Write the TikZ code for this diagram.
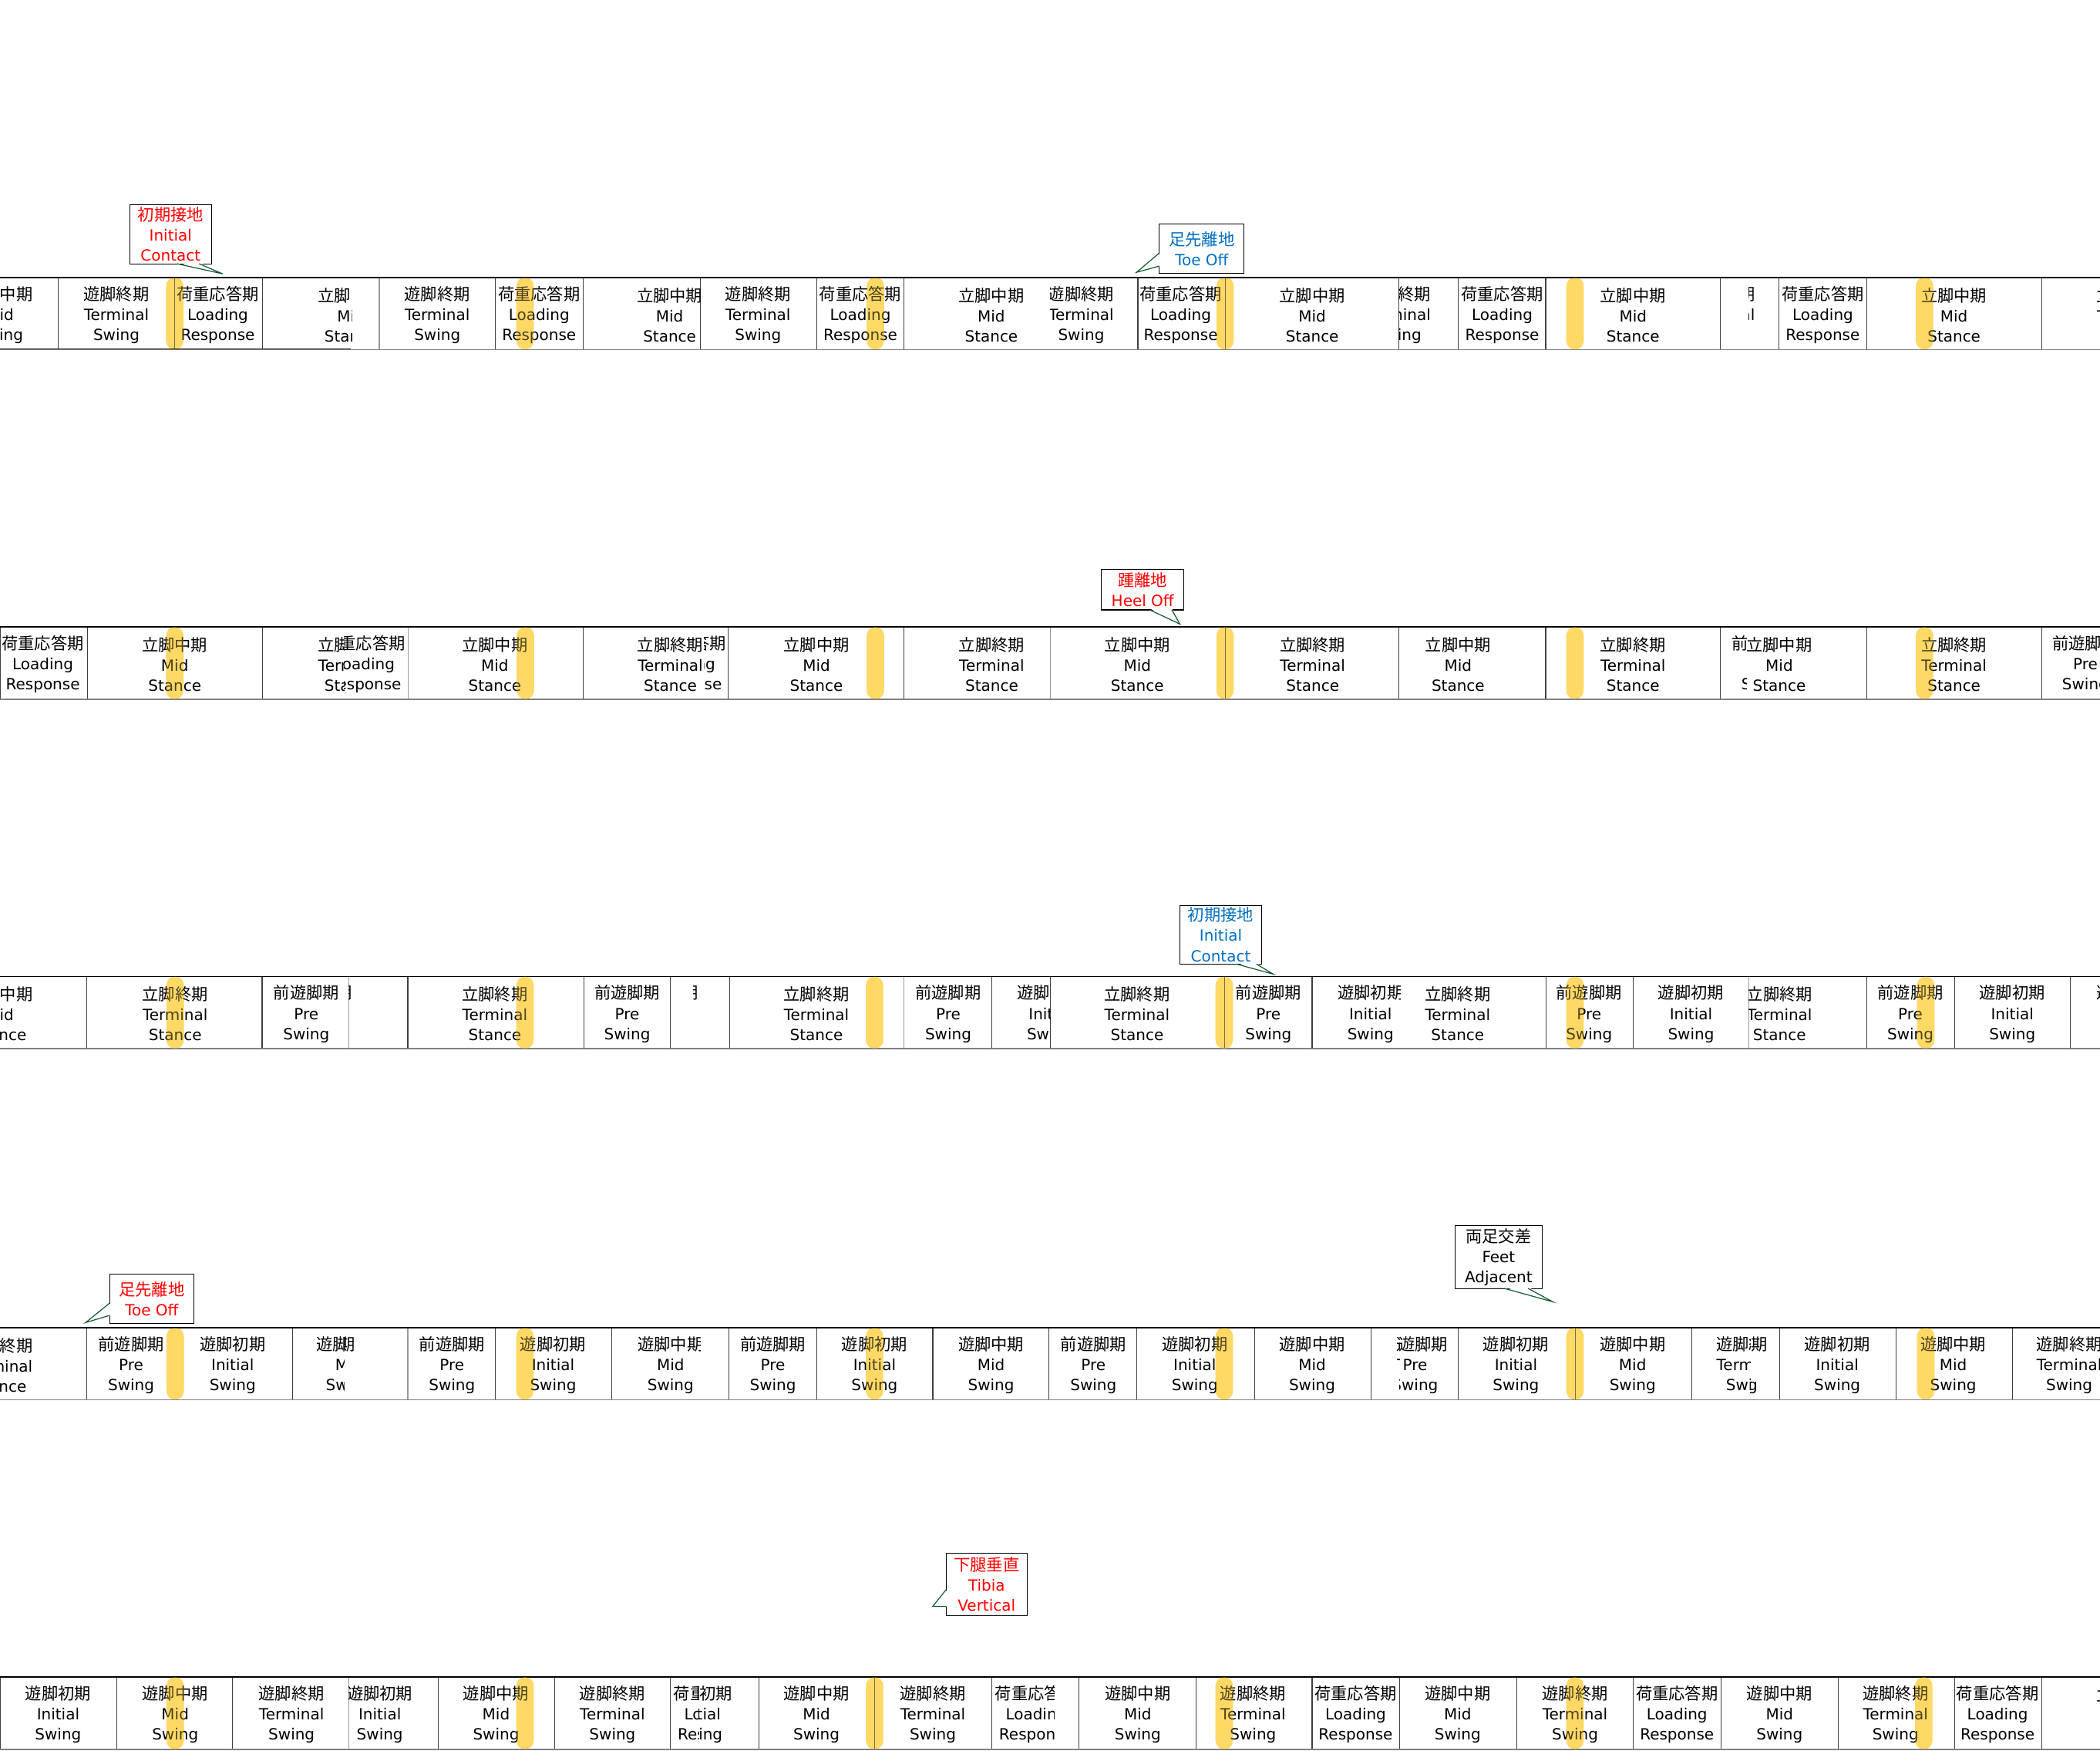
\documentclass[tikz,border=0pt]{standalone}
\usepackage{fontspec}
\setmainfont{DejaVu Sans}
\newfontfamily\cjk{Noto Sans CJK JP}[Scale=1.065]
\usepackage{tikz}
\usetikzlibrary{calc}

\definecolor{barYellow}{RGB}{255,217,102}
\definecolor{markRed}{RGB}{255,0,0}
\definecolor{markBlue}{RGB}{0,112,192}
\definecolor{wedgeGreen}{RGB}{20,90,50}

\newcommand{\phLR}{{\cjk 荷重応答期}\\Loading\\Response}
\newcommand{\phMSt}{{\cjk 立脚中期}\\Mid\\Stance}
\newcommand{\phTSt}{{\cjk 立脚終期}\\Terminal\\Stance}
\newcommand{\phPSw}{{\cjk 前遊脚期}\\Pre\\Swing}
\newcommand{\phISw}{{\cjk 遊脚初期}\\Initial\\Swing}
\newcommand{\phMSw}{{\cjk 遊脚中期}\\Mid\\Swing}
\newcommand{\phTSw}{{\cjk 遊脚終期}\\Terminal\\Swing}
\newcommand{\phSliver}{{\cjk 期}\\\phantom{M}\\\phantom{g}}

% one strip: id, top, dark separators, light separators, cells, clipped cells, heel bars
\newcommand{\gaitrow}[7]{%
  \pgfmathsetmacro\rowtop{#2}%
  \pgfmathsetmacro\rowbot{#2+54}%
  \pgfmathsetmacro\rowmid{#2+28}%
  \foreach \x in {#7} \fill[heelbar] ({\x-6.5},\rowtop) rectangle ({\x+6.5},\rowbot);
  \foreach \x in {#3} \draw[sepline] (\x,\rowtop) -- (\x,\rowbot);
  \foreach \x in {#4} \draw[sepline, black!40] (\x,\rowtop) -- (\x,\rowbot);
  \draw[bottomline] (0,\rowbot) -- (1568,\rowbot);
  \draw[topline] (0,\rowtop) -- (1568,\rowtop);
  \foreach \x/\t [count=\i] in {#5} \node[cell] (r#1c\i) at (\x,\rowmid) {\t};
  \foreach \x/\l/\r/\t [count=\i] in {#6} {
    \begin{scope}
      \clip (\l,\rowtop) rectangle (\r,\rowbot);
      \node[cell] (r#1k\i) at (\x,\rowmid) {\t};
    \end{scope}}
  \foreach \x in {#7} \fill[heelbar, fill opacity=0.3] ({\x-6.5},\rowtop) rectangle ({\x+6.5},\rowbot);
}

% callout pointers: node, base 1, base 2, tip
\newcommand{\callbottom}[4]{%
  \fill[white] ([xshift=#2pt,yshift=1pt]#1.south west) -- (#4) -- ([xshift=#3pt,yshift=1pt]#1.south west) -- cycle;
  \draw[wedgeline] ([xshift=#2pt]#1.south west) -- (#4) -- ([xshift=#3pt]#1.south west);}
\newcommand{\callleft}[4]{%
  \fill[white] ([xshift=1pt,yshift=-#2pt]#1.north west) -- (#4) -- ([xshift=1pt,yshift=-#3pt]#1.north west) -- cycle;
  \draw[wedgeline] ([yshift=-#2pt]#1.north west) -- (#4) -- ([yshift=-#3pt]#1.north west);}

\begin{document}
\begin{tikzpicture}[
        x=1pt, y=-1pt,
        cell/.style={inner sep=0pt, align=center, font=\fontsize{11.5}{15}\selectfont},
        markbox/.style={
            draw=black,
            fill=white,
            line width=0.6pt,
            inner sep=0pt,
            outer sep=0pt,
            align=center,
            font=\fontsize{11.5}{15}\selectfont
        },
        sepline/.style={line width=0.6pt, black!75},
        topline/.style={line width=1.1pt, black},
        bottomline/.style={line width=1pt, black!50},
        heelbar/.style={fill=barYellow, rounded corners=6.5pt},
        wedgeline/.style={wedgeGreen, line width=0.7pt}
    ]
    \useasboundingbox (0,0) rectangle (1568,1307);
    \clip (0,0) rectangle (1568,1307);

    \gaitrow{1}{207}
        {43.6,130.5,196,370,435.6,523,610,675,849.6,914.7,1044.6,1088.7,1154.1,1284.7,1328.5,1394,1524.6}
        {283.2}
        {0/\phMSw, 86.9/\phTSw, 162.6/\phLR, 326.5/\phTSw, 402.5/\phLR, 566/\phTSw, 642.4/\phLR, 740.2/\phMSt, 881.6/\phLR, 979.8/\phMSt, 1121.6/\phLR, 1219.3/\phMSt, 1361/\phLR, 1459/\phMSt, 1590/\phTSt}
        {262/196/262.7/\phMSt, 500/435.6/523/\phMSt, 807.3/784/849.6/\phTSw, 1044/1044.6/1088.7/\phTSw, 1286/1306/1310/\phTSw}
        {130.5,392,653.6,914.7,1176,1437}
    \draw[line width=1pt, black!85] (0,260.5) -- (262,260.5);

    \gaitrow{2}{468}
        {0.4,65.4,196,435.6,543.9,675,914.7,1044.6,1154.1,1284.7,1394,1524.6}
        {304.7,784.5}
        {32/\phLR, 130.5/\phMSt, 369.5/\phMSt, 609.6/\phMSt, 740.5/\phTSt, 849.2/\phMSt, 980.1/\phTSt, 1088.7/\phMSt, 1219.3/\phTSt, 1459/\phTSt, 1557/\phPSw}
        {262/196/257/\phTSt, 272/257/304.7/\phLR, 500.5/435.6/526/\phTSt, 511.4/526/543.9/\phLR, 1317.5/1284.7/1304/\phPSw, 1328.5/1304/1394/\phMSt}
        {130.5,392.3,653.6,914.7,1176,1437}

    \gaitrow{3}{729}
        {64.9,195.7,304.5,435.8,500.7,544.7,740.4,784.4,914.1,979.7,1154.5,1219.5,1393.8,1459.4,1546}
        {260.6,675,1306}
        {0/\phMSt, 130.8/\phTSt, 228.7/\phPSw, 369.5/\phTSt, 468.3/\phPSw, 609.6/\phTSt, 708/\phPSw, 849/\phTSt, 947.1/\phPSw, 1186.5/\phPSw, 1262.6/\phISw, 1426.4/\phPSw, 1502.5/\phISw, 1590/\phMSw}
        {257/260.6/264/\phSliver, 515/518/522/\phSliver, 784/740.4/784.4/\phISw, 1023.3/979.7/1045.5/\phISw, 1088.4/1045.5/1154.5/\phTSt, 1328.7/1306/1393.8/\phTSt}
        {130.8,392,653,914.1,1176,1437.9}

    \gaitrow{4}{991}
        {64.9,218.2,370,456.8,544.2,609.6,696.5,782.9,849,936.6,1023.8,1088.9,1176,1263.1,1328.7,1415.8,1502.5}
        {304.5}
        {0/\phTSt, 97.9/\phPSw, 173.7/\phISw, 337.5/\phPSw, 413/\phISw, 577.1/\phPSw, 653/\phISw, 740/\phMSw, 816.4/\phPSw, 892.1/\phISw, 979.7/\phMSw, 1131.9/\phISw, 1219/\phMSw, 1371.8/\phISw, 1458.4/\phMSw, 1545/\phTSw}
        {260.5/218.2/257/\phMSw, 241/257/266/\phISw, 500.7/456.8/522.7/\phMSw, 1067.5/1023.8/1045/\phTSw, 1056.5/1045/1088.9/\phPSw, 1306/1263.1/1307/\phTSw, 1295/1307/1328.7/\phPSw}
        {130.8,392,653,914.1,1176,1437.9}

    \gaitrow{5}{1252}
        {0.4,87.4,173.7,327,413.9,500.7,566.7,653,740.4,805.4,893.1,979.7,1045.3,1132.4,1219.5,1285.2,1372.3,1459.4,1524.5}
        {260.6}
        {43.4/\phISw, 130.8/\phMSw, 217.7/\phTSw, 370.4/\phMSw, 457.3/\phTSw, 609.6/\phMSw, 696.5/\phTSw, 849.5/\phMSw, 935.6/\phTSw, 1012.2/\phLR, 1088.4/\phMSw, 1176/\phTSw, 1252.1/\phLR, 1328.7/\phMSw, 1415.3/\phTSw, 1491.5/\phLR, 1590/\phMSt}
        {283.6/260.6/327/\phISw, 533.6/500.7/522/\phLR, 522.2/522/566.7/\phISw, 773.6/740.4/787/\phLR}
        {130.8,392,653,914.1,1176,1436.4}

    \node[markbox, text=markRed, minimum width=61.2pt, minimum height=44.3pt] (contactA) at (127.4,174.75) {{\cjk 初期接地}\\Initial\\Contact};
    \coordinate (contactAtip) at (166.2,204.4);
    \callbottom{contactA}{35.4}{51.9}{contactAtip}

    \node[markbox, text=markBlue, minimum width=63.2pt, minimum height=36.7pt] (toeA) at (897.3,185.65) {{\cjk 足先離地}\\Toe Off};
    \coordinate (toeAtip) at (848.6,203.3);
    \callleft{toeA}{21.5}{31.3}{toeAtip}

    \node[markbox, text=markRed, minimum width=61.4pt, minimum height=30.3pt] (heelOff) at (853.2,440.15) {{\cjk 踵離地}\\Heel Off};
    \coordinate (heelOfftip) at (881,465.9);
    \callbottom{heelOff}{36}{52.5}{heelOfftip}

    \node[markbox, text=markBlue, minimum width=61pt, minimum height=43.9pt] (contactB) at (911.5,697.75) {{\cjk 初期接地}\\Initial\\Contact};
    \coordinate (contactBtip) at (950.6,727.2);
    \callbottom{contactB}{42.1}{57.1}{contactBtip}

    \node[markbox, text=markRed, minimum width=62.9pt, minimum height=37pt] (toeB) at (113.35,969.5) {{\cjk 足先離地}\\Toe Off};
    \coordinate (toeBtip) at (63.9,987.4);
    \callleft{toeB}{21.8}{31}{toeBtip}

    \node[markbox, minimum width=65.1pt, minimum height=47pt] (feetAdj) at (1118.95,938.4) {{\cjk 両足交差}\\Feet\\Adjacent};
    \coordinate (feetAdjtip) at (1159.5,971.9);
    \callbottom{feetAdj}{37}{54.6}{feetAdjtip}

    \node[markbox, text=markRed, minimum width=60.5pt, minimum height=46.9pt] (tibiaVert) at (736.65,1182.95) {{\cjk 下腿垂直}\\Tibia\\Vertical};
    \coordinate (tibiaVerttip) at (696.5,1199.2);
    \callleft{tibiaVert}{27.3}{39.8}{tibiaVerttip}

\end{tikzpicture}
\end{document}
